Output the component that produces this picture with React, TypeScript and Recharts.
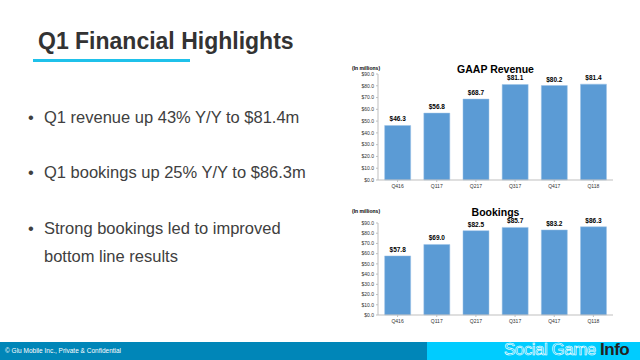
import React from 'react';
import { BarChart, Bar, XAxis, YAxis, LabelList } from 'recharts';

const quarters = ['Q416', 'Q117', 'Q217', 'Q317', 'Q417', 'Q118'];
const revenue = [46.3, 56.8, 68.7, 81.1, 80.2, 81.4];
const bookings = [57.8, 69.0, 82.5, 85.7, 83.2, 86.3];
const yTicks = [0, 10, 20, 30, 40, 50, 60, 70, 80, 90];
const bullets = [
  ['Q1 revenue up 43% Y/Y to $81.4m'],
  ['Q1 bookings up 25% Y/Y to $86.3m'],
  ['Strong bookings led to improved', 'bottom line results'],
];
const bulletTops = [107, 162, 218];

const BAR_COLOR = '#5B9BD5';
const AXIS_COLOR = '#BFBFBF';
const FONT = 'Liberation Sans, Arial, sans-serif';

const money = (v: number) => `$${Number(v).toFixed(1)}`;

interface MiniChartProps {
  title: string;
  values: number[];
  top: number;
  height: number;
  marginTop: number;
  titleTop: number;
}

const MiniChart: React.FC<MiniChartProps> = ({ title, values, top, height, marginTop, titleTop }) => {
  const data = quarters.map((q, i) => ({ name: q, value: values[i] }));
  return (
    <div style={{ position: 'absolute', left: 320, top, width: 300, height }}>
      <div style={{ position: 'absolute', left: 32, top: titleTop - 1, fontSize: 5, fontWeight: 'bold', color: '#000' }}>
        (In millions)
      </div>
      <div style={{ position: 'absolute', left: 58, width: 235, textAlign: 'center', top: titleTop - 3, fontSize: 10.5, fontWeight: 'bold', color: '#000' }}>
        {title}
      </div>
      <BarChart
        width={300}
        height={height}
        data={data}
        margin={{ top: marginTop, right: 7, left: 0, bottom: 0 }}
        barCategoryGap="17%"
      >
        <XAxis
          dataKey="name"
          height={15}
          tick={{ fontSize: 5, fill: '#333' }}
          stroke={AXIS_COLOR}
          tickLine={{ stroke: AXIS_COLOR }}
          tickSize={2}
          interval={0}
        />
        <YAxis
          width={58}
          domain={[0, 90]}
          ticks={yTicks}
          tickFormatter={money}
          tick={{ fontSize: 5, fill: '#333' }}
          stroke={AXIS_COLOR}
          tickLine={{ stroke: AXIS_COLOR }}
          tickSize={2}
          interval={0}
        />
        <Bar dataKey="value" fill={BAR_COLOR} stroke="#9DC3E6" strokeWidth={0.5} isAnimationActive={false}>
          <LabelList dataKey="value" position="top" formatter={money} offset={4} style={{ fontSize: 6.5, fontWeight: 'bold', fill: '#000' }} />
        </Bar>
      </BarChart>
    </div>
  );
};

export default function App() {
  return (
    <div style={{ position: 'absolute', left: 0, top: 0, width: 640, height: 360, background: '#fff', fontFamily: FONT, overflow: 'hidden' }}>
      <div style={{ position: 'absolute', left: 38, top: 28, fontSize: 23, fontWeight: 'bold', color: '#333' }}>
        Q1 Financial Highlights
      </div>
      <div style={{ position: 'absolute', left: 33, top: 59, width: 157, height: 3, background: '#1FC1EA' }} />

      {bullets.map((lines, i) => (
        <div key={i} style={{ position: 'absolute', left: 28, top: bulletTops[i], fontSize: 16.5, lineHeight: '28px', color: '#404040', whiteSpace: 'nowrap', display: 'flex', marginTop: -4 }}>
          <span style={{ width: 16 }}>•</span>
          <span>
            {lines.map((l, j) => (
              <div key={j}>{l}</div>
            ))}
          </span>
        </div>
      ))}

      <MiniChart title="GAAP Revenue" values={revenue} top={55} height={140} marginTop={19} titleTop={11} />
      <MiniChart title="Bookings" values={bookings} top={200} height={130} marginTop={23} titleTop={9} />

      <div style={{ position: 'absolute', left: 0, top: 342, width: 427, height: 18, background: '#0086B8' }} />
      <div style={{ position: 'absolute', left: 427, top: 342, width: 213, height: 18, background: '#00CCFF' }} />
      <div style={{ position: 'absolute', left: 5, top: 347, fontSize: 6.5, color: '#fff' }}>
        © Glu Mobile Inc., Private & Confidential
      </div>
      <div style={{ position: 'absolute', left: 504, top: 340, fontSize: 17, whiteSpace: 'nowrap', letterSpacing: -0.5 }}>
        <span style={{ color: '#00CCFF', WebkitTextStroke: '0.6px #fff' }}>Social Game </span>
        <span style={{ color: '#222', fontWeight: 'bold' }}>Info</span>
      </div>
    </div>
  );
}
